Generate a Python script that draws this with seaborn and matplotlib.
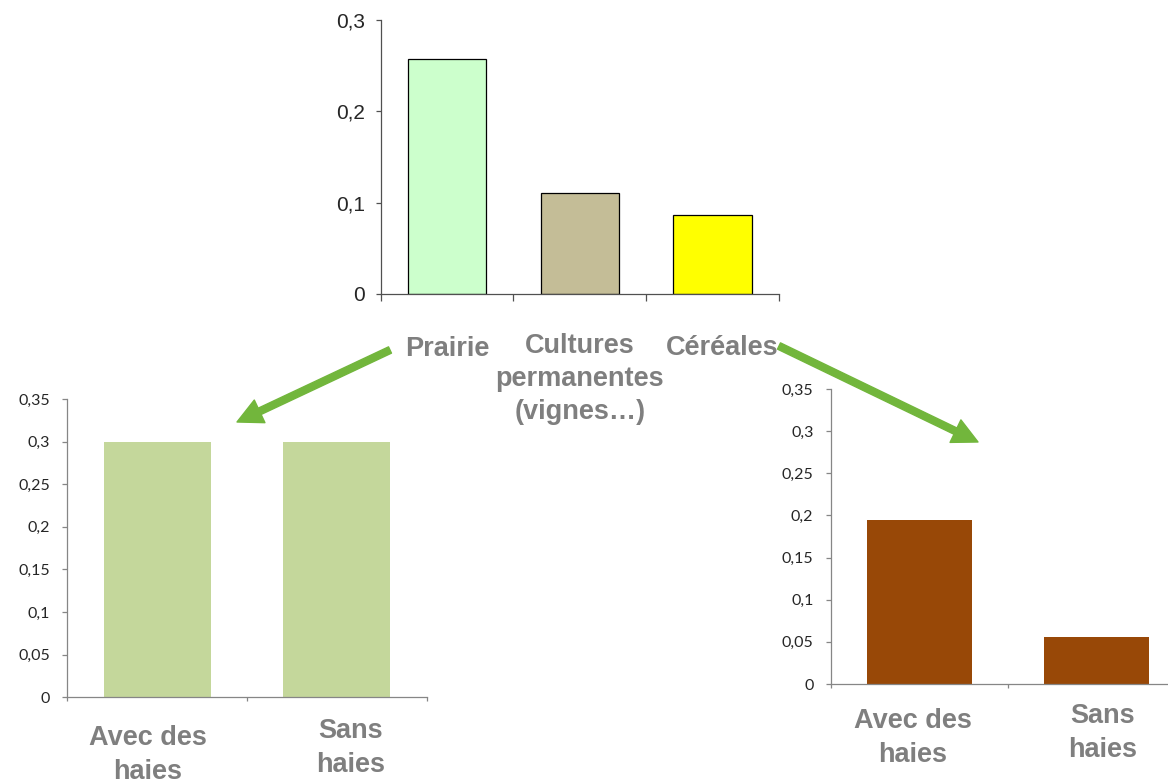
import numpy as np
import pandas as pd
import matplotlib.pyplot as plt
import seaborn as sns
from matplotlib.patches import FancyArrowPatch
from matplotlib.ticker import FuncFormatter

# data
top_cats = ['Prairie', 'Cultures permanentes (vignes…)', 'Céréales']
top_vals = [0.257, 0.111, 0.0865]
top_colors = ['#CCFFCC', '#C4BD97', '#FFFF00']

prairie_cats = ['Avec des haies', 'Sans haies']
prairie_vals = [0.30, 0.30]

cereales_cats = ['Avec des haies', 'Sans haies']
cereales_vals = [0.195, 0.0558]

sns.set_style('white')
plt.rcParams['font.family'] = ['Liberation Sans', 'DejaVu Sans']

W, H = 1168, 782
fig = plt.figure(figsize=(W / 100, H / 100), dpi=100)


def box(x0, x1, ytop, ybot):
    # pixel box -> figure fraction
    return [x0 / W, 1 - ybot / H, (x1 - x0) / W, (ybot - ytop) / H]


def px(x, y):
    return (x / W, 1 - y / H)


comma = FuncFormatter(lambda v, p: f'{v:g}'.replace('.', ','))
gray = '#7F7F7F'

# top chart
ax = fig.add_axes(box(380.7, 779, 20, 294))
sns.barplot(x=top_cats, y=top_vals, hue=top_cats, palette=top_colors, width=0.59,
            saturation=1, edgecolor='black', linewidth=0.9, legend=False, ax=ax)
ax.set_xlim(-0.5, 2.5)
ax.set_ylim(0, 0.3)
ax.set_yticks([0, 0.1, 0.2, 0.3])
ax.yaxis.set_major_formatter(comma)
ax.set_xticks([-0.5, 0.5, 1.5, 2.5])
ax.set_xticklabels([])
for s in ['top', 'right']:
    ax.spines[s].set_visible(False)
for s in ['left', 'bottom']:
    ax.spines[s].set_color('#505050')
    ax.spines[s].set_linewidth(0.9)
ax.tick_params(axis='y', length=3.6, width=0.9, color='#505050', pad=7.7, labelsize=15,
               left=True, direction='out')
ax.tick_params(axis='x', length=5, width=0.9, color='#505050', bottom=True, direction='out')

fig.text(*px(447, 336), 'Prairie', ha='center', va='top', fontsize=19.5,
         fontweight='bold', color=gray)
fig.text(*px(580, 333), 'Cultures\npermanentes\n(vignes…)', ha='center', va='top',
         fontsize=19.5, fontweight='bold', color=gray, linespacing=1.36, multialignment='center')
fig.text(*px(722, 335), 'Céréales', ha='center', va='top', fontsize=19.5,
         fontweight='bold', color=gray)


def small_chart(rect, cats, vals, color):
    a = fig.add_axes(rect)
    sns.barplot(x=cats, y=vals, color=color, width=0.594, saturation=1, linewidth=0, ax=a)
    a.set_xlim(-0.5, 1.5)
    a.set_ylim(0, 0.35)
    a.set_yticks(np.arange(0, 0.36, 0.05))
    a.yaxis.set_major_formatter(comma)
    a.set_xticks([-0.5, 0.5, 1.5])
    a.set_xticklabels([])
    a.set_xlabel('')
    for s in ['top', 'right']:
        a.spines[s].set_visible(False)
    for s in ['left', 'bottom']:
        a.spines[s].set_color('#868686')
        a.spines[s].set_linewidth(0.9)
    a.tick_params(axis='y', length=3.8, width=0.9, color='#868686', pad=8.6,
                  labelsize=11.5, left=True, direction='out')
    a.tick_params(axis='x', length=3, width=0.9, color='#868686', bottom=True, direction='out')
    for lab in a.get_yticklabels():
        lab.set_family(['Lato', 'DejaVu Sans'])
    return a


small_chart(box(67.3, 426.7, 399, 697.3), prairie_cats, prairie_vals, '#C4D79B')
small_chart(box(830.7, 1184.7, 389, 684), cereales_cats, cereales_vals, '#984807')

# category labels below the small charts
kw = dict(ha='center', va='top', fontsize=19.5, fontweight='bold', color=gray,
          linespacing=1.42, multialignment='center')
fig.text(*px(148, 725), 'Avec des\nhaies', **kw)
fig.text(*px(351, 718), 'Sans\nhaies', **kw)
fig.text(*px(913, 708), 'Avec des\nhaies', **kw)
fig.text(*px(1103, 703), 'Sans\nhaies', **kw)

# green arrows
style = 'simple,head_length=18,head_width=18,tail_width=5'
for a0, a1 in [((390, 350), (237, 422)), ((779, 346), (978, 442))]:
    arr = FancyArrowPatch(px(*a0), px(*a1), transform=fig.transFigure,
                          arrowstyle=style, color='#72B63C', shrinkA=0, shrinkB=0)
    fig.add_artist(arr)

fig.savefig('out.png', dpi=100)
